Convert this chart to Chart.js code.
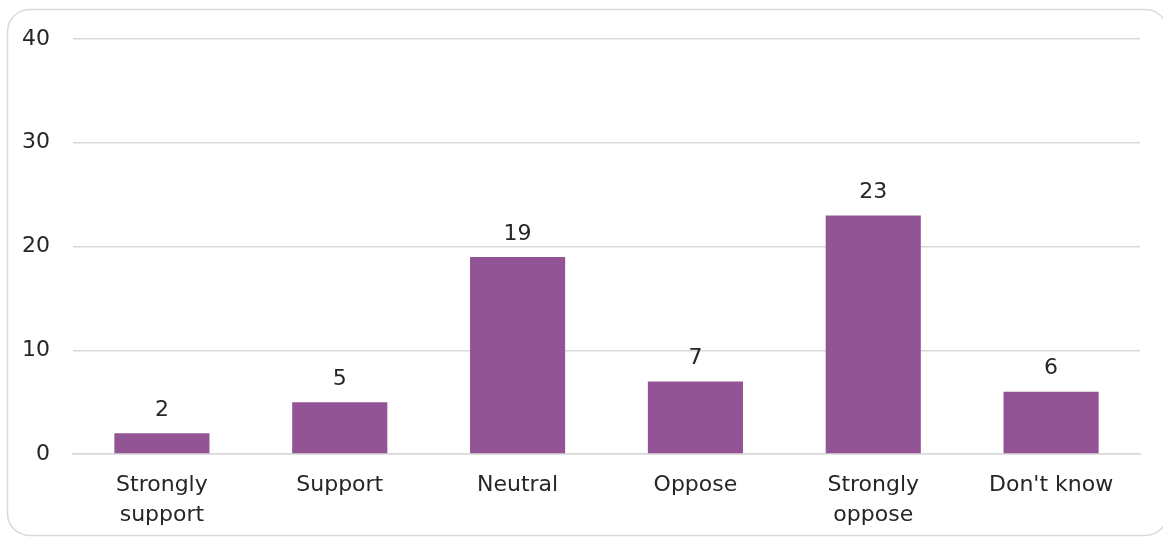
<!DOCTYPE html>
<html>
<head>
<meta charset="utf-8">
<script src="https://cdn.jsdelivr.net/npm/chart.js@4/dist/chart.umd.min.js"></script>
<style>
  html, body { margin: 0; padding: 0; background: #fff; }
  #wrap { width: 1163px; height: 540px; position: relative; }
</style>
</head>
<body>
<div id="wrap"><canvas id="OpinionChart"></canvas></div>
<script>
const categories = [['Strongly', 'support'], 'Support', 'Neutral', 'Oppose', ['Strongly', 'oppose'], "Don't know"];
const responses = [2, 5, 19, 7, 23, 6];
const yTicks = [0, 10, 20, 30, 40];

const textColor = '#262626';
const fontFamily = '"DejaVu Sans", sans-serif';

// rounded frame round the whole chart
const framePlugin = {
  id: 'frame',
  beforeDraw(chart) {
    const ctx = chart.ctx;
    ctx.save();
    ctx.strokeStyle = '#d9d9d9';
    ctx.lineWidth = 1.5;
    ctx.beginPath();
    ctx.roundRect(7.5, 9.5, 1160, 526, 22);
    ctx.stroke();
    ctx.restore();
  }
};

// value written above each bar
const barValues = {
  id: 'barValues',
  afterDatasetsDraw(chart) {
    const ctx = chart.ctx;
    const meta = chart.getDatasetMeta(0);
    ctx.save();
    ctx.fillStyle = textColor;
    ctx.font = '22px ' + fontFamily;
    ctx.textAlign = 'center';
    ctx.textBaseline = 'bottom';
    meta.data.forEach((bar, i) => {
      ctx.fillText(chart.data.datasets[0].data[i], bar.x, bar.y - 12);
    });
    ctx.restore();
  }
};

const ctx = document.getElementById('OpinionChart');
const opinionChart = new Chart(ctx, {
  type: 'bar',
  data: {
    labels: categories,
    datasets: [{
      label: 'Responses',
      data: responses,
      backgroundColor: '#935495',
      barPercentage: 0.535,
      categoryPercentage: 1
    }]
  },
  options: {
    responsive: true,
    maintainAspectRatio: false,
    animation: false,
    layout: { padding: { top: 39, right: 23, bottom: 0, left: 0 } },
    plugins: {
      legend: { display: false },
      tooltip: { enabled: false }
    },
    scales: {
      x: {
        grid: { display: false, drawTicks: false },
        border: { color: '#d9d9d9', width: 1.5 },
        ticks: {
          color: textColor,
          font: { family: fontFamily, size: 22, lineHeight: 1.36 },
          padding: 16,
          maxRotation: 0,
          autoSkip: false
        },
        afterFit(scale) { scale.height = 86; }
      },
      y: {
        min: 0,
        max: 40,
        afterBuildTicks(scale) { scale.ticks = yTicks.map(v => ({ value: v })); },
        grid: { color: '#d9d9d9', lineWidth: 1.5, drawTicks: false },
        border: { display: false },
        ticks: {
          color: textColor,
          font: { family: fontFamily, size: 22 },
          padding: 23
        },
        afterFit(scale) { scale.width = 73; }
      }
    }
  },
  plugins: [framePlugin, barValues]
});
</script>
</body>
</html>
